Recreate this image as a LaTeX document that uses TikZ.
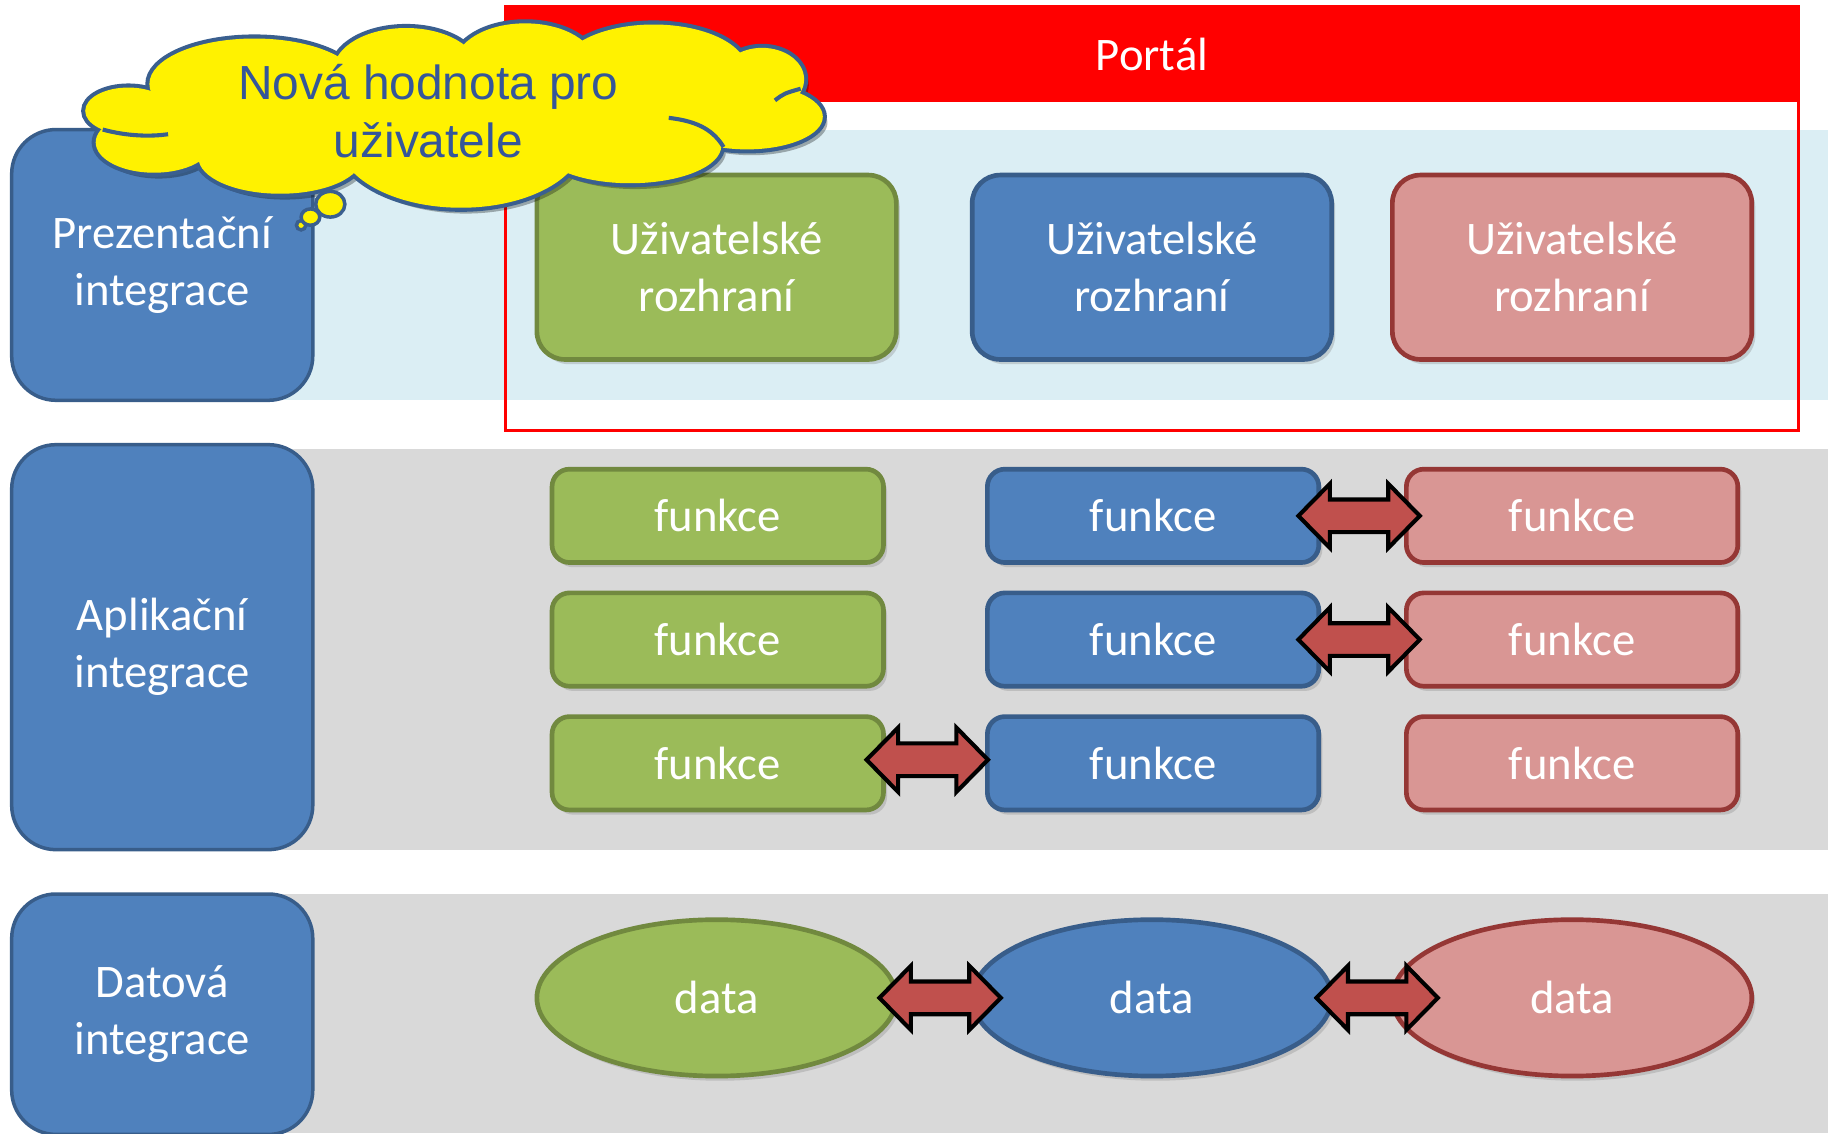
\documentclass[tikz,border=0pt]{standalone}
\usepackage{fontspec}
\setmainfont{Carlito}
\newfontfamily\cloudfont{Liberation Sans}
\usetikzlibrary{positioning,calc,shapes.geometric,shadows}

\definecolor{bandblue}{HTML}{DBEEF4}
\definecolor{bandgray}{HTML}{D9D9D9}
\definecolor{boxblue}{HTML}{4F81BD}
\definecolor{lineblue}{HTML}{385D8A}
\definecolor{boxgreen}{HTML}{9BBB59}
\definecolor{linegreen}{HTML}{71893F}
\definecolor{boxpink}{HTML}{D99694}
\definecolor{linepink}{HTML}{953735}
\definecolor{linkred}{HTML}{C0504D}
\definecolor{portalred}{HTML}{FF0000}
\definecolor{cloudline}{HTML}{3A5F8F}
\definecolor{cloudtext}{HTML}{35569A}

\begin{document}
\begin{tikzpicture}[x=1pt,y=-1pt,node distance=22pt,
		font=\fontsize{40}{49}\selectfont,text=white]
		\tikzstyle{layer}=[fill=boxblue,draw=lineblue,line width=3pt,rounded corners=38pt,minimum width=258pt,align=center]
		\tikzstyle{shade}=[drop shadow={shadow xshift=3pt,shadow yshift=-4pt,opacity=.3}]
		\tikzstyle{ui}=[shade,rounded corners=24pt,minimum width=308pt,minimum height=158pt,line width=4pt,align=center]
		\tikzstyle{func}=[shade,rounded corners=15pt,minimum width=284pt,minimum height=80pt,line width=4pt]
		\tikzstyle{store}=[shade,ellipse,minimum width=308pt,minimum height=134pt,line width=4pt]
		\tikzstyle{greenpart}=[fill=boxgreen,draw=linegreen]
		\tikzstyle{bluepart}=[fill=boxblue,draw=lineblue]
		\tikzstyle{pinkpart}=[fill=boxpink,draw=linepink]
		\tikzstyle{puff}=[ellipse,fill=yellow,draw=cloudline,line width=3pt,inner sep=0pt]
		\tikzstyle{link}=[draw=black,fill=linkred,line width=3.5pt,line join=miter,
			to path={let \p1=($(\tikztostart)!.5!(\tikztotarget)$) in
				({\x1-52pt},\y1) -- ++(27pt,-27.5pt) -- ++(0,13.5pt) -- ++(50pt,0) -- ++(0,-13.5pt)
				-- ({\x1+52pt},\y1) -- ++(-27pt,27.5pt) -- ++(0,-13.5pt) -- ++(-50pt,0) -- ++(0,13.5pt) -- cycle}]
		\def\puffs{218/72/90/39,348/60/62/36,450/55/60/35,560/60/80/39,653/68/36/27,640/100/65/28,
			540/125/78/32,395/120/105/58,240/135/70/31,132/122/50/26,110/95/37/20,390/95/250/50}
		
		\useasboundingbox (0,0) rectangle (1568,971);
		% layers
		\fill[bandblue] (139,111) rectangle (1566,343);
		\fill[bandgray] (139,385) rectangle (1566,728);
		\fill[bandgray] (139,766) rectangle (1566,971);
		
		% portal
		\fill[portalred] (433,6) rectangle (1541,87);
		\draw[portalred,line width=3pt] (433,6) rectangle (1541,369);
		\node (portal) at (987,47) {Portál};
		
		\node[layer,minimum height=232pt] (prez) at (139,227) {Prezentační\\integrace};
		\node[layer,minimum height=347pt] (app) at (139,554.5) {Aplikační\\integrace};
		\node[layer,minimum height=206pt] (dat) at (139,869) {Datová\\integrace};
		
		\node[ui,greenpart] (ui1) at (614,229) {Uživatelské\\rozhraní};
		\node[ui,bluepart] (ui2) [right=61pt of ui1] {Uživatelské\\rozhraní};
		\node[ui,pinkpart] (ui3) [right=48pt of ui2] {Uživatelské\\rozhraní};
		
		\node[func,greenpart] (g1) at (615,442) {funkce};
		\node[func,greenpart] (g2) [below=of g1] {funkce};
		\node[func,greenpart] (g3) [below=of g2] {funkce};
		\node[func,bluepart] (b1) [right=85pt of g1] {funkce};
		\node[func,bluepart] (b2) [below=of b1] {funkce};
		\node[func,bluepart] (b3) [below=of b2] {funkce};
		\node[func,pinkpart] (p1) [right=71pt of b1] {funkce};
		\node[func,pinkpart] (p2) [below=of p1] {funkce};
		\node[func,pinkpart] (p3) [below=of p2] {funkce};
		
		\node[store,greenpart] (d1) at (614,855) {data};
		\node[store,bluepart] (d2) [right=61pt of d1] {data};
		\node[store,pinkpart] (d3) [right=48pt of d2] {data};
		
		\draw[link] ([xshift=-3pt]b1.center) to ([xshift=-3pt]p1.center);
		\draw[link] ([xshift=-3pt]b2.center) to ([xshift=-3pt]p2.center);
		\draw[link] ([xshift=-7pt,yshift=3pt]g3.center) to ([xshift=-7pt,yshift=3pt]b3.center);
		\draw[link] ([xshift=5pt]d1.center) to ([xshift=5pt]d2.center);
		\draw[link] ([xshift=13pt]d2.center) to ([xshift=13pt]d3.center);
		
		% thought cloud
		\begin{scope}[transparency group,opacity=.3]
			\foreach \cx/\cy/\rx/\ry in \puffs
				\fill[black] (\cx+4,\cy+5) ellipse [x radius=\rx,y radius=\ry];
		\end{scope}
		\foreach \cx/\cy/\rx/\ry in \puffs
			\draw[cloudline,line width=7pt] (\cx,\cy) ellipse [x radius=\rx,y radius=\ry];
		\foreach \cx/\cy/\rx/\ry in \puffs
			\fill[yellow] (\cx,\cy) ellipse [x radius=\rx,y radius=\ry];
		\draw[cloudline,line width=3.5pt] (573,101) .. controls (600,104) and (612,113) .. (620,126);
		\draw[cloudline,line width=3.5pt] (664,86) .. controls (672,80) .. (686,76);
		\draw[cloudline,line width=3.5pt] (88,111) .. controls (110,117) and (130,117) .. (144,115);
		\node[puff,minimum width=8pt,minimum height=8pt] (bubbleC) at (258,193) {};
		\node[puff,minimum width=16pt,minimum height=14pt] (bubbleB) at (266,186) {};
		\node[puff,minimum width=25pt,minimum height=22pt] (bubbleA) at (283,175) {};
		\node[font=\cloudfont\fontsize{41}{50}\selectfont,text=cloudtext,align=center] (ideatext)
			at (367,95) {Nová hodnota pro\\uživatele};
\end{tikzpicture}
\end{document}
